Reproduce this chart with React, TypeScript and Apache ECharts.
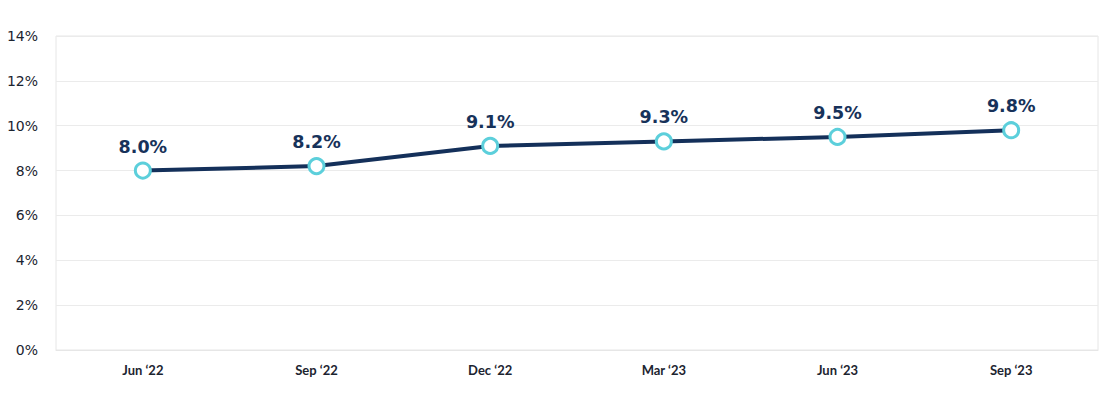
import React, { useEffect, useRef } from "react";
import * as echarts from "echarts";

const categories = ["Jun ‘22", "Sep ‘22", "Dec ‘22", "Mar ‘23", "Jun ‘23", "Sep ‘23"];
const values = [8.0, 8.2, 9.1, 9.3, 9.5, 9.8];
const yTicks = [0, 2, 4, 6, 8, 10, 12, 14];

export default function App() {
  const ref = useRef<HTMLDivElement>(null);
  useEffect(() => {
    document.body.style.margin = "0";
    const chart = echarts.init(ref.current!, null, { renderer: "svg" });
    chart.setOption({
      animation: false,
      backgroundColor: "#ffffff",
      grid: {
        left: 56,
        right: 2,
        top: 36,
        bottom: 52,
        show: true,
        borderColor: "#e6e6e6",
        borderWidth: 1,
      },
      xAxis: {
        type: "category",
        data: categories,
        boundaryGap: true,
        axisLine: { show: true, lineStyle: { color: "#e6e6e6" } },
        axisTick: { show: false },
        axisLabel: {
          color: "#1c2430",
          fontFamily: "Lato",
          fontWeight: "bold",
          fontSize: 13,
          margin: 13,
        },
      },
      yAxis: {
        type: "value",
        min: yTicks[0],
        max: yTicks[yTicks.length - 1],
        interval: 2,
        axisLine: { show: false },
        axisTick: { show: false },
        splitLine: { lineStyle: { color: "#ebebeb" } },
        axisLabel: {
          formatter: "{value}%",
          color: "#1c2430",
          fontFamily: "DejaVu Sans",
          fontSize: 14,
          margin: 18,
          padding: [0, 0, 6, 0],
        },
      },
      series: [
        {
          type: "line",
          data: values,
          symbol: "circle",
          symbolSize: 15,
          lineStyle: { color: "#14305a", width: 4 },
          itemStyle: { color: "#ffffff", borderColor: "#5ccfdb", borderWidth: 3 },
          label: {
            show: true,
            position: "top",
            distance: 6,
            formatter: (p: any) => p.value.toFixed(1) + "%",
            color: "#17325a",
            fontFamily: "DejaVu Sans",
            fontWeight: "bold",
            fontSize: 17.5,
          },
        },
      ],
    });
    return () => chart.dispose();
  }, []);
  return <div ref={ref} style={{ width: 1100, height: 402 }} />;
}
